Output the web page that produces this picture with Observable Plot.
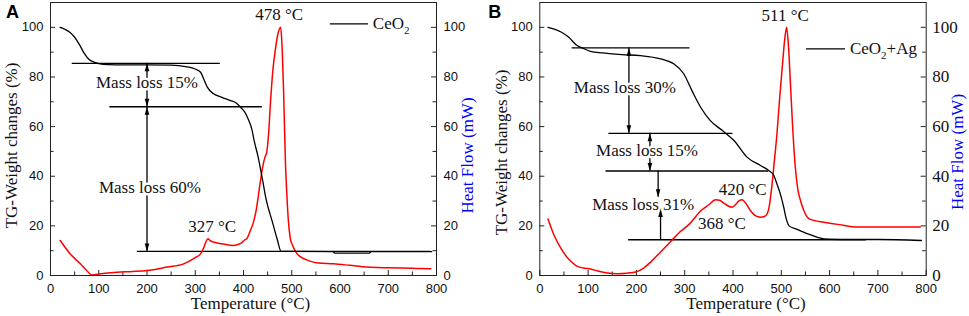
<!DOCTYPE html>
<html><head><meta charset="utf-8">
<script src="https://cdn.jsdelivr.net/npm/d3@7"></script>
<script src="https://cdn.jsdelivr.net/npm/@observablehq/plot@0.6"></script>
<style>
body{margin:0;background:#fff}
#wrap{display:flex;width:969px;height:316px;overflow:hidden}
#wrap svg{display:block;overflow:visible}
</style>
</head><body><div id="wrap"></div>
<script>
// ---------- shared tick values ----------
const xTicks = [0, 100, 200, 300, 400, 500, 600, 700, 800];
const xMinor = [50, 150, 250, 350, 450, 550, 650, 750];
const yTicks = [0, 20, 40, 60, 80, 100];
const yMinor = [10, 30, 50, 70, 90];
const xLabel = "Temperature (°C)";
const yLabel = "TG-Weight changes (%)";
const y2Label = "Heat Flow (mW)";

// ---------- Panel A: CeO2 ----------
const tgA_T = [20, 30, 40, 50, 60, 70, 80, 90, 100, 120, 150, 200, 250, 280, 300, 311, 318, 325, 338, 355, 373, 385, 394, 402, 408, 418, 422, 430, 440, 446, 460, 470, 478, 500, 585, 590, 660, 665, 790];
const tgA_W = [100, 99.2, 98, 96, 93, 89.5, 87, 86, 85.4, 85, 84.9, 84.9, 84.8, 84.2, 83.2, 81.9, 79, 75.9, 73.2, 71.8, 70.5, 69.5, 67.8, 66, 63.8, 58.4, 54.4, 48, 38, 31.5, 21.5, 14.5, 9.7, 9.7, 9.6, 9.0, 9.0, 9.6, 9.6];
const hfA_T = [20, 41, 62, 75, 86, 104, 138, 170, 200, 242, 276, 300, 311, 318, 322, 326, 332, 339, 355, 380, 395, 401, 408, 414, 420, 425, 430, 435, 440, 445, 448, 452, 456, 461, 466, 471, 477, 480, 483, 487, 490, 493, 497, 502, 510, 520, 535, 555, 587, 620, 656, 700, 750, 788];
const hfA_H = [14.1, 8.7, 4.7, 2, 0.2, 0.7, 1.3, 1.6, 2, 3.4, 4.7, 7.2, 8.7, 11.4, 13.5, 14.8, 13.9, 13.4, 12.8, 12.1, 13, 14.1, 15.2, 18, 21, 25, 31, 38, 44, 48, 49.5, 57, 70, 83, 91, 97, 100, 92, 75, 45, 32, 22, 15, 12, 9, 7.3, 6, 5, 4.7, 4.1, 3.4, 3.1, 2.9, 2.7];
const hlinesA = [{x1: 45, x2: 352, y: 85.5}, {x1: 123, x2: 439, y: 68}, {x1: 180, x2: 788, y: 9.7}];
const arrowsA = [{x: 200, top: 85.5, bottom: 68, up: true, down: true}, {x: 200, top: 68, bottom: 9.7, up: true, down: true}];
const notesA = [
  {x: 200, y: 77.9, t: "Mass loss 15%", halo: true},
  {x: 206, y: 35.6, t: "Mass loss 60%", halo: true},
  {x: 474, y: 105.1, t: "478 °C"},
  {x: 335, y: 19.7, t: "327 °C"}
];
const legendA = {x1: 580, x2: 659, y: 101.4, tx: 668, t: "CeO₂"};

// ---------- Panel B: CeO2+Ag ----------
const tgB_T = [17, 30, 45, 60, 75, 90, 105, 130, 170, 208, 250, 277, 298, 315, 333, 353, 378, 402, 429, 457, 474, 484, 491, 500, 505, 510, 516, 530, 540, 555, 575, 600, 650, 700, 790];
const tgB_W = [100, 99.3, 98, 96, 93, 91.5, 90.3, 89.7, 89, 88.6, 87.3, 85.3, 81.3, 74.5, 67.8, 62.4, 58.4, 54.4, 47.7, 44.3, 42.3, 40.5, 36.9, 31.5, 27.5, 23, 20, 18.8, 18, 16.8, 15.4, 14.6, 14.5, 14.5, 14.1];
const hfB_T = [17, 30, 45, 60, 75, 90, 105, 120, 140, 160, 180, 200, 215, 230, 250, 270, 290, 310, 333, 350, 364, 372, 381, 390, 398, 405, 413, 419, 425, 436, 447, 457, 465, 471, 476, 481, 486, 491, 496, 502, 507, 511, 515, 519, 524, 529, 534, 540, 547, 554, 565, 588, 620, 657, 700, 788];
const hfB_H = [22.8, 16, 10.5, 6.5, 4, 3, 2.6, 1.8, 1, 0.7, 0.9, 1.5, 3, 5.5, 9.5, 13.5, 17.5, 20.8, 26, 28.5, 30.5, 30.3, 29.2, 28, 27.5, 28.5, 30.2, 30.5, 29.5, 26.2, 24, 23.5, 23.8, 25, 29, 37, 47, 57, 70, 84, 95, 100, 92, 77, 58, 43.6, 35, 30, 26, 23.5, 22.3, 21.5, 20.5, 19.5, 19.5, 19.5];
const hlinesB = [{x1: 67, x2: 311, y: 91.7}, {x1: 143, x2: 400, y: 57.3}, {x1: 137, x2: 474, y: 42.1}, {x1: 184, x2: 676, y: 14.4}];
const arrowsB = [
  {x: 184.5, top: 91.7, bottom: 57.3, up: true, down: true},
  {x: 228, top: 57.3, bottom: 42.1, up: true, down: true},
  {x: 245, top: 42.1, bottom: 31.5, up: false, down: true},
  {x: 250, top: 26.8, bottom: 14.4, up: true, down: false}
];
const notesB = [
  {x: 176, y: 75.6, t: "Mass loss 30%", halo: true},
  {x: 222, y: 50.4, t: "Mass loss 15%", halo: true},
  {x: 214, y: 28.6, t: "Mass loss 31%", halo: true},
  {x: 420, y: 34.5, t: "420 °C"},
  {x: 377, y: 21.1, t: "368 °C"},
  {x: 508, y: 104.7, t: "511 °C"}
];
const legendB = {x1: 552, x2: 633, y: 91.3, tx: 642, t: "CeO₂+Ag"};

const SERIF = "'Liberation Serif', 'Times New Roman', serif";
const SANS = "'Liberation Sans', Arial, sans-serif";

function zipPts(T, V) { return T.map((t, i) => ({t, v: V[i]})); }

function panel(o) {
  const height = 316, mt = 2, mb = 41;
  const W = o.width - o.ml - o.mr, H = height - mt - mb;
  const heads = [];
  for (const a of o.arrows) {
    if (a.up) heads.push({x: a.x, y: a.top, rot: 0});
    if (a.down) heads.push({x: a.x, y: a.bottom, rot: 180});
  }
  const svg = Plot.plot({
    width: o.width, height,
    marginLeft: o.ml, marginRight: o.mr, marginTop: mt, marginBottom: mb,
    x: {domain: [0, 800]},
    y: {domain: [0, 110]},
    style: {fontFamily: SERIF, background: "#fff", color: "#111"},
    marks: [
      // ticks (inward) on bottom, left, right
      Plot.tickX(xTicks, {x: d => d, insetTop: H - 5, stroke: "#222"}),
      Plot.tickX(xMinor, {x: d => d, insetTop: H - 3.5, stroke: "#222"}),
      Plot.tickY(yTicks, {y: d => d, insetRight: W - 5, stroke: "#222"}),
      Plot.tickY(yMinor, {y: d => d, insetRight: W - 3.5, stroke: "#222"}),
      Plot.tickY(yTicks, {y: d => d, insetLeft: W - 5, stroke: "#222"}),
      Plot.tickY(yMinor, {y: d => d, insetLeft: W - 3.5, stroke: "#222"}),
      Plot.axisX({ticks: xTicks, tickSize: 0, tickPadding: 8, fontFamily: SANS, fontSize: 13, label: null, tickFormat: d => String(d)}),
      Plot.axisY({ticks: yTicks, anchor: "left", tickSize: 0, tickPadding: 7, fontFamily: SANS, fontSize: 13, label: null, tickFormat: d => String(d)}),
      Plot.axisY({ticks: yTicks, anchor: "right", tickSize: 0, tickPadding: o.rPad, fontFamily: o.rFont, fontSize: o.rSize, label: null, tickFormat: d => String(d)}),
      // annotation horizontal lines
      Plot.ruleY(o.hlines, {x1: "x1", x2: "x2", y: "y", stroke: "#000", strokeWidth: 1.3}),
      // curves
      Plot.line(zipPts(o.hfT, o.hfH), {x: "t", y: "v", stroke: "#ff0000", strokeWidth: 1.5, curve: "monotone-x"}),
      Plot.line(zipPts(o.tgT, o.tgW), {x: "t", y: "v", stroke: "#000", strokeWidth: 1.3, curve: "monotone-x"}),
      // arrows
      Plot.ruleX(o.arrows, {x: "x", y1: "top", y2: "bottom", stroke: "#000", strokeWidth: 1.3}),
      Plot.vector(heads, {x: "x", y: "y", rotate: "rot", anchor: "end", length: 8, shape: "spike", r: 2.3, fill: "#000", stroke: "none"}),
      // annotation texts
      Plot.text(o.notes.filter(d => d.halo), {x: "x", y: "y", text: "t", fontSize: 17, fontFamily: SERIF, fill: "#111", stroke: "#fff", strokeWidth: 5, paintOrder: "stroke"}),
      Plot.text(o.notes.filter(d => !d.halo), {x: "x", y: "y", text: "t", fontSize: 17, fontFamily: SERIF, fill: "#111"}),
      // legend
      Plot.ruleY([o.legend], {x1: "x1", x2: "x2", y: "y", stroke: "#000", strokeWidth: 1.3}),
      Plot.text([o.legend], {x: "tx", y: "y", text: "t", textAnchor: "start", fontSize: 17, fontFamily: SERIF, fill: "#111"}),
      // axis titles
      Plot.text([xLabel], {frameAnchor: "bottom", text: d => d, textAnchor: "middle", lineAnchor: "middle", dy: 28, dx: o.xdx, fontSize: 17, fontFamily: SERIF, fill: "#111"}),
      Plot.text([yLabel], {frameAnchor: "left", text: d => d, textAnchor: "middle", lineAnchor: "middle", rotate: -90, dx: o.ydx, dy: o.ydy, fontSize: 17, fontFamily: SERIF, fill: "#111"}),
      Plot.text([y2Label], {frameAnchor: "right", text: d => d, textAnchor: "middle", lineAnchor: "middle", rotate: -90, dx: o.y2dx, dy: o.y2dy, fontSize: 17, fontFamily: SERIF, fill: "#0000ff"}),
      // panel letter
      Plot.text([o.letter], {frameAnchor: "top-left", text: d => d, textAnchor: "middle", lineAnchor: "middle", dx: o.ldx, dy: 10, fontSize: 18, fontWeight: "bold", fontFamily: SANS, fill: "#000"}),
      Plot.frame({stroke: "#222", strokeWidth: 1})
    ]
  });
  // render subscript digit as a smaller, lowered tspan
  svg.querySelectorAll("text").forEach(el => {
    const s = el.textContent;
    if (s.includes("₂")) {
      const [a, b] = s.split("₂");
      el.textContent = "";
      const ns = "http://www.w3.org/2000/svg";
      const t1 = document.createElementNS(ns, "tspan"); t1.textContent = a;
      const t2 = document.createElementNS(ns, "tspan"); t2.textContent = "2";
      t2.setAttribute("font-size", "11"); t2.setAttribute("dy", "5");
      el.appendChild(t1); el.appendChild(t2);
      if (b) {
        const t3 = document.createElementNS(ns, "tspan"); t3.textContent = b;
        t3.setAttribute("dy", "-5");
        el.appendChild(t3);
      }
    }
  });
  return svg;
}

const wrap = document.getElementById("wrap");
wrap.appendChild(panel({
  width: 480, ml: 50, mr: 44, letter: "A", ldx: -38,
  tgT: tgA_T, tgW: tgA_W, hfT: hfA_T, hfH: hfA_H,
  hlines: hlinesA, arrows: arrowsA, notes: notesA, legend: legendA,
  rFont: SANS, rSize: 13, rPad: 7,
  xdx: 7, ydx: -39, ydy: 6.5, y2dx: 31, y2dy: 16.5
}));
wrap.appendChild(panel({
  width: 489, ml: 59.3, mr: 43.3, letter: "B", ldx: -45,
  tgT: tgB_T, tgW: tgB_W, hfT: hfB_T, hfH: hfB_H,
  hlines: hlinesB, arrows: arrowsB, notes: notesB, legend: legendB,
  rFont: SERIF, rSize: 17, rPad: 6,
  xdx: 13, ydx: -38.6, ydy: 13.5, y2dx: 31.3, y2dy: 13
}));
</script>
</body></html>
